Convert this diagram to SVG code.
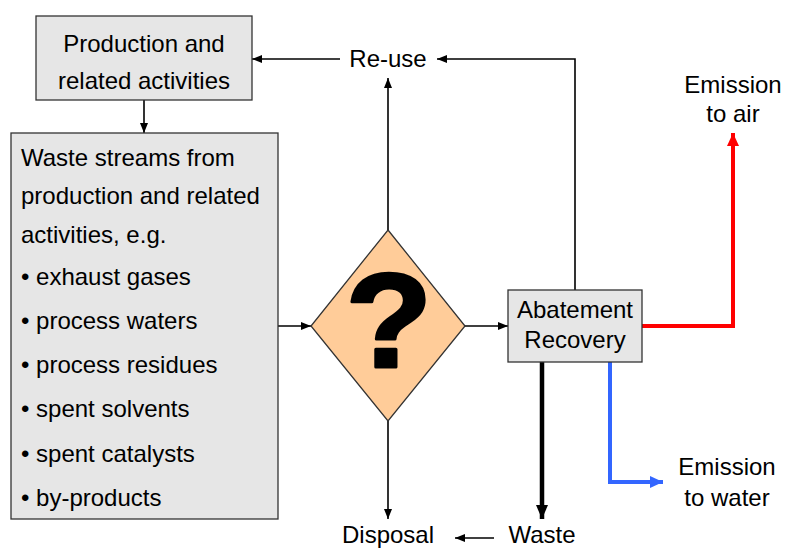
<svg xmlns="http://www.w3.org/2000/svg" width="785" height="549" viewBox="0 0 785 549">
<style>
.t{font-family:"Liberation Sans",Arial,sans-serif;font-size:24px;fill:#000}
.c{text-anchor:middle}
.box{fill:#E6E6E6;stroke:#333;stroke-width:1.3}
.thin{fill:none;stroke:#000;stroke-width:1.6}
</style>
<defs>
<marker id="ah" viewBox="0 0 10 8" refX="10" refY="4" markerWidth="10" markerHeight="8" markerUnits="userSpaceOnUse" orient="auto"><path d="M0,0L10,4L0,8z" fill="#000"/></marker>
<marker id="ahk" viewBox="0 0 14 12" refX="14" refY="6" markerWidth="14" markerHeight="12" markerUnits="userSpaceOnUse" orient="auto"><path d="M0,0L14,6L0,12z" fill="#000"/></marker>
<marker id="ahr" viewBox="0 0 13 12" refX="13" refY="6" markerWidth="13" markerHeight="12" markerUnits="userSpaceOnUse" orient="auto"><path d="M0,0L13,6L0,12z" fill="#FF0000"/></marker>
<marker id="ahb" viewBox="0 0 13 12" refX="13" refY="6" markerWidth="13" markerHeight="12" markerUnits="userSpaceOnUse" orient="auto"><path d="M0,0L13,6L0,12z" fill="#3366FF"/></marker>
</defs>
<g id="connectors">
<path class="thin" d="M340,59L252,59" marker-end="url(#ah)"/>
<path class="thin" d="M144,100L144,133" marker-end="url(#ah)"/>
<path class="thin" d="M278,326L311,326" marker-end="url(#ah)"/>
<path class="thin" d="M388,230L388,78" marker-end="url(#ah)"/>
<path class="thin" d="M464,326L508,326" marker-end="url(#ah)"/>
<path class="thin" d="M575,290L575,59L437,59" marker-end="url(#ah)"/>
<path class="thin" d="M388,421L388,519" marker-end="url(#ah)"/>
<path class="thin" d="M494,538L455,538" marker-end="url(#ah)"/>
<path d="M542,362L542,519" fill="none" stroke="#000" stroke-width="4.5" marker-end="url(#ahk)"/>
<path d="M642,326L733,326L733,133" fill="none" stroke="#FF0000" stroke-width="4" marker-end="url(#ahr)"/>
<path d="M610,362L610,482L663,482" fill="none" stroke="#3366FF" stroke-width="4" marker-end="url(#ahb)"/>
</g>
<g id="production">
<rect class="box" x="36" y="16" width="216" height="84"/>
<text class="t c" x="144" y="52">Production and</text>
<text class="t c" x="144" y="89">related activities</text>
</g>
<g id="waste-streams">
<rect class="box" x="11" y="133" width="267" height="386"/>
<text class="t" x="21" y="166">Waste streams from</text>
<text class="t" x="21" y="204">production and related</text>
<text class="t" x="21" y="243">activities, e.g.</text>
<text class="t" x="21" y="285">• exhaust gases</text>
<text class="t" x="21" y="329">• process waters</text>
<text class="t" x="21" y="373">• process residues</text>
<text class="t" x="21" y="417">• spent solvents</text>
<text class="t" x="21" y="462">• spent catalysts</text>
<text class="t" x="21" y="506">• by-products</text>
</g>
<g id="decision">
<path d="M388,230L465,326L388,421L311,326z" fill="#FFCC99" stroke="#333" stroke-width="1.3"/>
<text x="389" y="367" text-anchor="middle" font-family="'Liberation Sans',Arial,sans-serif" font-weight="bold" font-size="134" stroke="#000" stroke-width="3" stroke-linejoin="round" transform="translate(389 0) scale(1.06 1) translate(-389 0)">?</text>
</g>
<g id="abatement">
<rect class="box" x="508" y="290" width="134" height="72"/>
<text class="t c" x="575" y="318">Abatement</text>
<text class="t c" x="575" y="348">Recovery</text>
</g>
<g id="reuse"><text class="t c" x="388" y="67">Re-use</text></g>
<g id="emission-air"><text class="t c" x="733" y="93">Emission</text><text class="t c" x="733" y="122">to air</text></g>
<g id="emission-water"><text class="t c" x="727" y="475">Emission</text><text class="t c" x="727" y="506">to water</text></g>
<g id="disposal"><text class="t c" x="388" y="543">Disposal</text></g>
<g id="waste"><text class="t c" x="542" y="543">Waste</text></g>
</svg>
